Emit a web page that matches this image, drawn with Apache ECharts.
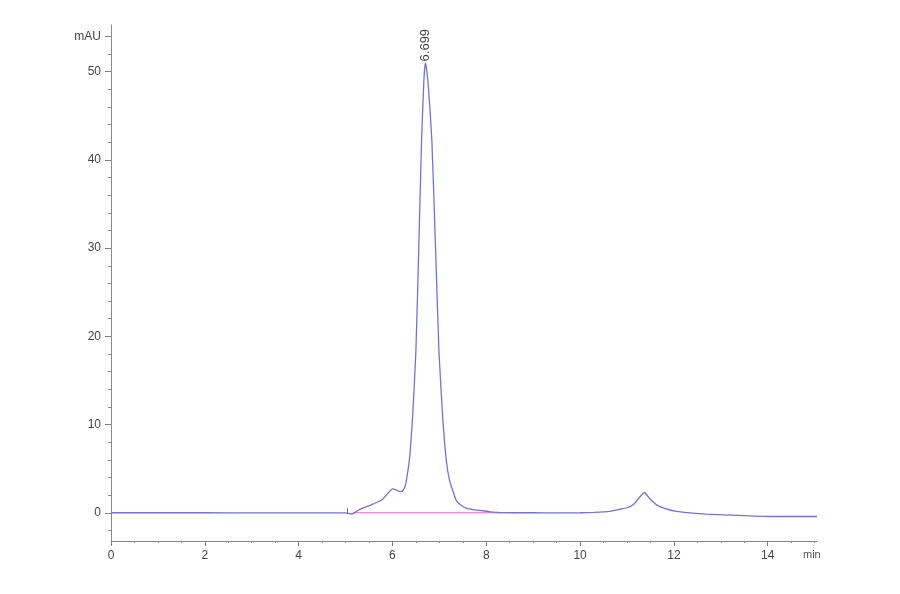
<!DOCTYPE html>
<html>
<head>
<meta charset="utf-8">
<script src="https://cdn.jsdelivr.net/npm/echarts@6/dist/echarts.min.js"></script>
<style>
  html, body { margin: 0; padding: 0; background: #fff; }
  #chart { width: 900px; height: 594px; }
</style>
</head>
<body>
<div id="chart"></div>
<script>
// signal trace: [min, mAU]
var signal = [
    [0, 0], [1, 0], [2, 0], [3, -0.01], [4, -0.02], [5.0, -0.02], [5.1, -0.12], [5.16, -0.1],
    [5.25, 0.2], [5.37, 0.55], [5.48, 0.75], [5.59, 1.0], [5.7, 1.25], [5.8, 1.6], [5.9, 2.2],
    [6.0, 2.7], [6.08, 2.6], [6.16, 2.4], [6.22, 2.5], [6.28, 3.2], [6.33, 4.8], [6.37, 6.5],
    [6.43, 10.9], [6.5, 18.4], [6.56, 29.8], [6.62, 42.2], [6.67, 49.0], [6.70, 51.0],
    [6.73, 50.2], [6.77, 48.0], [6.84, 42.2], [6.92, 29.8], [6.99, 18.4], [7.07, 10.9],
    [7.15, 5.8], [7.22, 3.6], [7.28, 2.6], [7.36, 1.4], [7.45, 0.9], [7.57, 0.53],
    [7.75, 0.33], [7.93, 0.23], [8.1, 0.1], [8.28, 0.03], [8.6, 0], [9, 0], [9.5, -0.02],
    [10, 0], [10.3, 0.05], [10.62, 0.15], [10.85, 0.4], [11.0, 0.57], [11.15, 1.0],
    [11.37, 2.3], [11.5, 1.5], [11.63, 0.9], [11.8, 0.5], [12.05, 0.15], [12.4, -0.05],
    [12.69, -0.15], [13.4, -0.3], [14.1, -0.42], [15.05, -0.42]
];
// integration baseline under the main peak
var baseline = [[5.16, 0], [8.6, 0]];
var peak = [6.70, 51.0];
var peakLabel = '6.699';
var xMajorTicks = [0, 2, 4, 6, 8, 10, 12, 14];
var yMajorTicks = [0, 10, 20, 30, 40, 50, 54];
var xMinorTicks = [];
for (var i = 0; i <= 30; i++) xMinorTicks.push(i * 0.5);
var yMinorTicks = [];
for (var j = -1; j <= 27; j++) yMinorTicks.push(j * 2);

var myChart = echarts.init(document.getElementById('chart'));

var font = 'Liberation Sans, Arial, sans-serif';
var axisColor = '#8a8a8a';

var option = {
    backgroundColor: '#fff',
    animation: false,
    grid: { left: 111, right: 83, top: 25, bottom: 53 },
    xAxis: [{
        type: 'value', min: 0, max: 15.05,
        axisLine: { show: true, onZero: false, lineStyle: { color: axisColor, width: 1 } },
        axisTick: { show: true, customValues: xMajorTicks, length: 5, lineStyle: { color: '#777' } },
        axisLabel: { customValues: xMajorTicks, color: '#444', fontSize: 12, fontFamily: font, margin: 9 },
        splitLine: { show: false }
    }, {
        type: 'value', min: 0, max: 15.05, position: 'bottom',
        axisLine: { show: false, onZero: false },
        axisTick: { show: true, customValues: xMinorTicks, length: 2, lineStyle: { color: '#888' } },
        axisLabel: { show: false },
        splitLine: { show: false }
    }],
    yAxis: [{
        type: 'value', min: -3.2, max: 55.3,
        axisLine: { show: true, onZero: false, lineStyle: { color: axisColor, width: 1 } },
        axisTick: { show: true, customValues: yMajorTicks, length: 6, lineStyle: { color: '#777' } },
        axisLabel: {
            customValues: yMajorTicks, color: '#444', fontSize: 12, fontFamily: font, margin: 10,
            formatter: function (v) { return v === 54 ? 'mAU' : String(v); }
        },
        splitLine: { show: false }
    }, {
        type: 'value', min: -3.2, max: 55.3, position: 'left',
        axisLine: { show: false, onZero: false },
        axisTick: { show: true, customValues: yMinorTicks, length: 3, lineStyle: { color: '#888' } },
        axisLabel: { show: false },
        splitLine: { show: false }
    }],
    series: [{
        name: 'baseline',
        type: 'line',
        data: baseline,
        symbol: 'none',
        lineStyle: { color: '#ee66cc', width: 1.2 },
        z: 1
    }, {
        name: 'signal',
        type: 'line',
        data: signal,
        symbol: 'none',
        smooth: 0.15,
        lineStyle: { color: '#7272dc', width: 1.3 },
        z: 2,
        markPoint: {
            silent: true,
            symbol: 'circle',
            symbolSize: 1,
            itemStyle: { color: 'rgba(0,0,0,0)' },
            data: [{ coord: peak }],
            label: {
                show: true,
                formatter: peakLabel,
                rotate: 90,
                position: 'top',
                align: 'left',
                verticalAlign: 'middle',
                distance: 1,
                color: '#444',
                fontSize: 13,
                fontFamily: font
            }
        },
        markLine: {
            silent: true,
            symbol: 'none',
            label: { show: false },
            lineStyle: { color: '#666', width: 1, type: 'solid' },
            data: [[{ coord: [5.03, -0.1] }, { coord: [5.03, 0.5] }]]
        }
    }],
    graphic: [{
        type: 'text', left: 803, top: 549,
        style: { text: 'min', fill: '#555', font: '11px ' + font }
    }]
};

myChart.setOption(option);
</script>
</body>
</html>
